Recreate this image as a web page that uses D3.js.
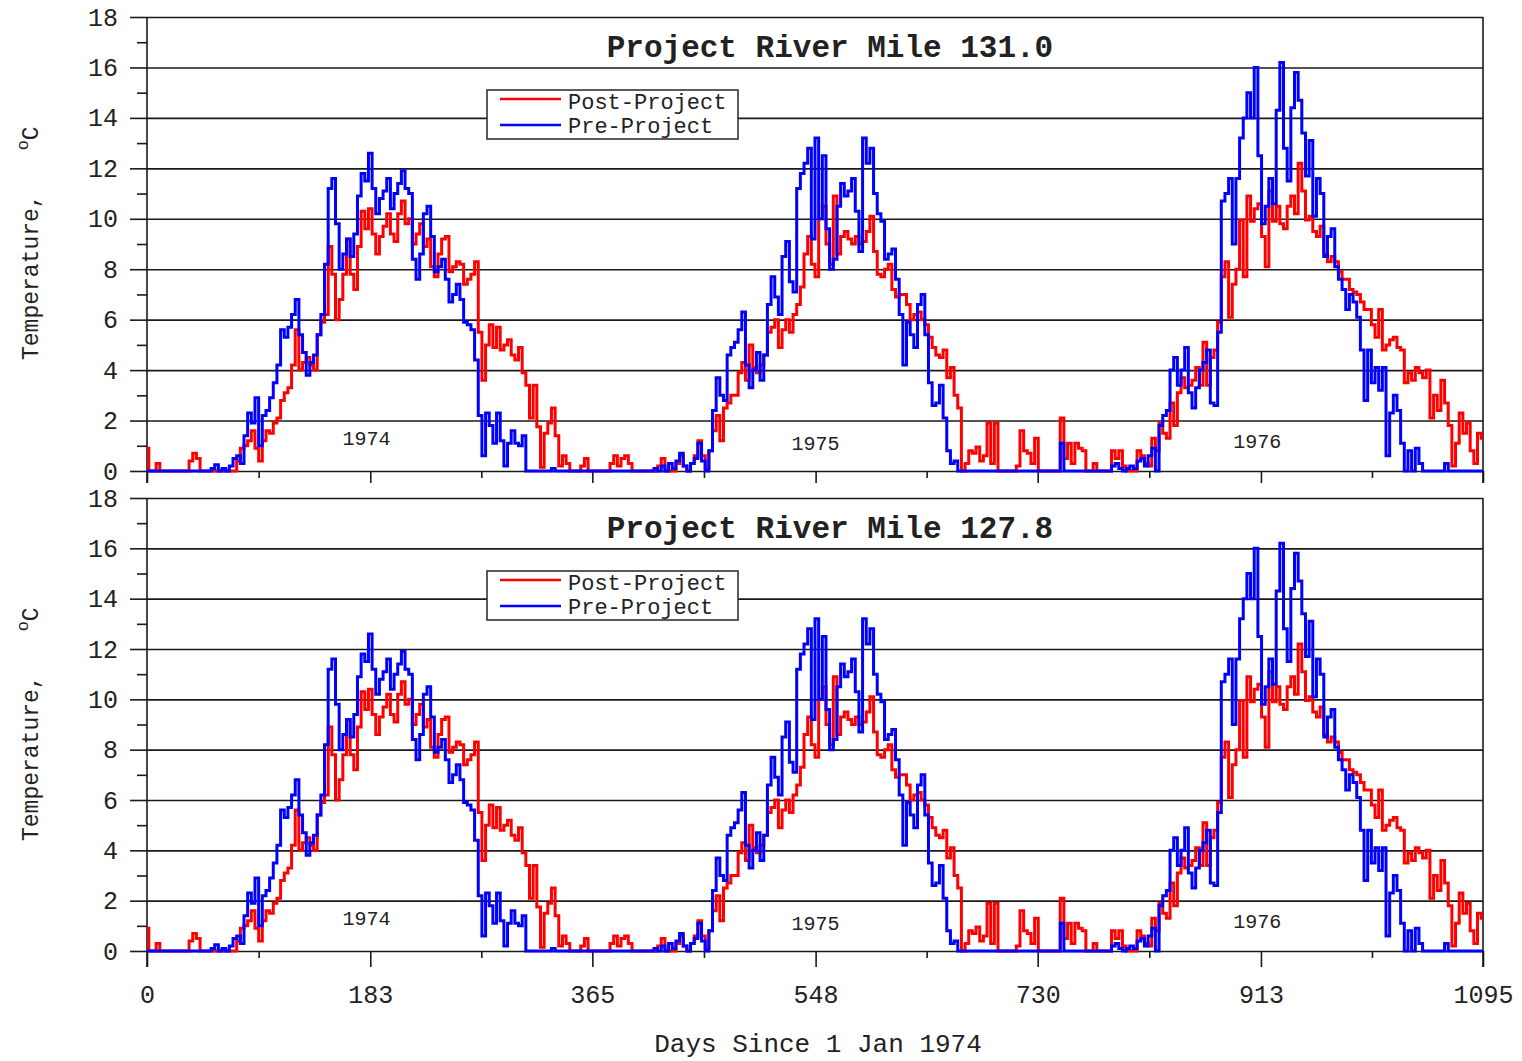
<!DOCTYPE html>
<html>
<head>
<meta charset="utf-8">
<title>Project River Mile temperatures</title>
<script src="https://cdn.jsdelivr.net/npm/d3@7"></script>
<style>
  html, body { margin: 0; padding: 0; background: #fff; }
  svg { display: block; }
  text { font-family: "Liberation Mono", "Courier New", monospace; fill: #222; }
</style>
</head>
<body>
<svg id="chart" width="1522" height="1061"></svg>
<script>
// sampling grid: every 3rd day since 1 Jan 1974
const dayStep = 3
const days = d3.range(0, 1096, dayStep)

// Pre-Project water temperature (deg C), one value per grid day
const preProject = [
  0,0,0,0,0,0,0,0,0,0,
  0,0,0,0,0,0,0,0,0.1,0.25,
  0,0.1,0,0.2,0.5,0.6,0.3,1.4,2.3,1.9,
  2.9,1.0,2.2,2.4,2.9,3.5,4.2,5.6,5.3,5.7,
  6.2,6.8,5.4,4.7,3.8,4.3,4.6,5.4,6.2,8.2,
  11.2,11.6,9.8,8.0,8.6,9.2,8.5,9.4,10.9,11.8,
  11.5,12.6,11.2,10.2,10.8,11.1,11.6,10.4,11.0,11.4,
  11.9,11.2,11.0,8.4,7.6,8.6,10.2,10.5,9.3,7.9,
  8.1,8.4,7.6,6.7,7.0,7.4,6.8,5.9,5.8,5.6,
  4.4,2.2,0.6,2.3,1.8,1.1,2.3,1.2,0.2,1.1,
  1.6,1.1,1.0,1.4,0,0,0,0,0,0,
  0,0.1,0,0,0,0,0,0,0,0,
  0,0,0,0,0,0,0,0,0,0,
  0,0,0,0,0,0,0,0,0,0.1,
  0,0.2,0,0.3,0.1,0.4,0.7,0.2,0,0.3,
  0.5,1.1,0.4,0,0.8,2.4,3.7,3.0,2.8,4.6,
  4.9,5.1,5.6,6.3,4.2,3.3,4.0,4.7,3.6,4.6,
  6.6,7.7,6.9,6.2,8.5,9.1,7.5,7.1,11.2,11.8,
  12.2,12.8,9.2,13.2,10.0,12.5,9.6,8.0,8.4,10.5,
  11.4,10.9,11.1,11.6,10.3,8.7,13.2,12.2,12.8,11.0,
  10.2,9.9,8.4,8.6,8.8,7.6,6.2,4.2,5.9,5.4,
  4.9,6.6,7.0,5.4,3.5,2.6,2.7,3.4,2.1,0.8,
  0.3,0.4,0,0,0,0,0,0,0,0,
  0,0,0,0,0,0,0,0,0,0,
  0,0,0,0,0,0,0,0,0,0,
  1.1,0,0,0,0,0,0,0,0,0,
  0,0,0,0,0.2,0.3,0.1,0,0.1,0.2,
  0.1,0.4,0.5,0.2,0.6,0.9,0,1.8,2.2,2.4,
  4.0,4.5,3.4,4.0,4.9,3.1,2.5,3.3,4.0,4.3,
  4.8,2.7,2.6,5.5,10.7,11.0,11.6,9.0,11.6,13.2,
  14.0,15.0,14.0,16.0,12.5,9.8,10.5,11.6,10.6,14.3,
  16.2,12.8,11.5,14.4,15.8,14.7,13.4,11.7,13.1,10.1,
  11.6,11.0,8.5,9.3,9.6,8.1,7.6,7.2,6.4,7.0,
  6.7,6.1,4.8,2.8,4.8,3.5,4.1,3.2,4.1,0.6,
  2.3,3.0,2.4,1.1,0,0.8,0,0.9,0.3,0,
  0,0,0,0,0,0.3,0,0,0,0,
  0,0,0,0,0,0
]

// Post-Project water temperature (deg C)
const postProject = [
  0.9,0,0,0.3,0,0,0,0,0,0,
  0,0,0.4,0.7,0.5,0,0,0,0,0,
  0,0,0,0,0,0.4,0.9,1.0,1.2,1.6,
  0.9,0.4,1.2,1.6,1.5,1.9,2.1,2.8,3.1,3.3,
  4.2,5.6,4.0,4.3,4.5,4.2,4.0,5.4,5.9,6.2,
  8.9,7.8,6.0,6.8,7.8,9.2,7.8,7.2,8.9,10.3,
  9.6,10.4,9.4,8.6,9.3,9.7,10.2,9.4,9.1,10.2,
  10.7,9.8,10.0,9.0,9.4,9.8,8.9,9.2,8.1,7.7,
  8.6,9.2,9.3,7.9,8.1,8.3,8.2,7.4,7.6,7.8,
  8.3,5.5,3.6,5.0,5.8,4.9,5.7,4.8,5.0,5.2,
  4.6,4.4,4.9,3.9,3.4,2.1,3.4,1.75,0.15,1.5,
  1.9,2.5,1.4,0.2,0.6,0.3,0,0,0,0.2,
  0.5,0,0,0,0,0,0,0.3,0.6,0.2,
  0.5,0.6,0.3,0,0,0,0,0,0,0,
  0.2,0.5,0,0,0,0.3,0.6,0.2,0,0.3,
  0.6,1.2,0.6,0.1,0.8,1.6,2.2,1.2,2.5,2.7,
  3.0,3.0,3.9,4.3,3.6,5.0,4.1,3.9,4.2,4.6,
  5.5,5.7,6.0,4.9,5.6,6.0,5.5,6.2,6.6,7.3,
  8.6,9.3,8.2,7.7,10.0,10.5,9.0,8.2,10.9,8.6,
  9.3,9.5,9.2,9.0,9.3,9.0,9.1,9.5,10.1,8.7,
  7.8,7.7,8.0,8.2,7.2,6.9,7.0,7.0,6.6,6.0,
  6.2,6.3,6.0,5.8,5.3,4.9,4.6,4.5,4.8,3.7,
  4.1,3.0,2.5,0,0.3,0.8,0.7,0.95,0.4,0.6,
  1.9,0.3,1.9,0,0,0,0,0,0.2,1.6,
  0.8,0.7,0.3,1.3,0,0,0,0,0,0,
  2.1,0.5,1.1,0.3,1.1,0.9,0.8,0,0,0.3,
  0,0,0,0,0.8,0.5,0.8,0.2,0,0,
  0,0.8,0.6,0.3,0.2,1.3,0.8,1.9,1.5,1.3,
  2.7,1.8,3.1,3.7,3.3,3.4,3.6,4.1,3.4,5.1,
  3.4,4.5,4.8,5.9,7.7,8.3,6.1,7.4,8.0,9.95,
  7.7,10.9,9.9,10.4,10.6,9.3,8.1,11.1,9.9,10.5,
  9.8,9.6,10.5,10.9,10.2,12.2,11.1,9.95,10.1,9.5,
  9.3,9.7,8.6,8.3,8.5,8.3,7.9,7.6,7.6,7.2,
  7.1,7.0,6.7,6.4,6.4,5.8,5.3,6.4,4.8,5.0,
  5.2,5.3,4.9,4.8,3.5,3.9,3.6,4.1,3.9,3.7,
  4.0,2.1,3.0,2.4,3.6,2.7,1.8,0.2,1.1,2.3,
  1.5,1.9,0.8,0.3,1.5,1.3
]

const panelTitles = ["Project River Mile 131.0", "Project River Mile 127.8"]
const seriesNames = ["Post-Project", "Pre-Project"]
const seriesColors = ["#ff0000", "#0000ff"]
const yearLabels = ["1974", "1975", "1976"]
const yearLabelDays = [180, 548, 910]
const yearLabelTemps = [1.3, 1.1, 1.2]
const xTickValues = [0, 183, 365, 548, 730, 913, 1095]
const xMinorTicks = [91.5, 274, 456.5, 639, 821.5, 1004]
const yTickValues = [0, 2, 4, 6, 8, 10, 12, 14, 16, 18]
const yMinorTicks = [1, 3, 5, 7, 9, 11, 13, 15, 17]

// both river miles plotted from the same traces (the two panels read the same)
const panelSeries = [[postProject, preProject], [postProject, preProject]]

var tempChart = {
  // Renderiza os dois painéis //
  render: function(node){
    const svg = d3.select(node)
    const left = 147, right = 1483
    const panels = [{top: 17, bottom: 471, majorTick: 12}, {top: 498, bottom: 951, majorTick: 16}]

    const x = d3.scaleLinear().domain([0, 1095]).range([left, right])

    panels.forEach((p, k) => {
      const y = d3.scaleLinear().domain([0, 18]).range([p.bottom, p.top])
      const g = svg.append("g").attr("class", "panel")

      // grid lines
      g.append("g")
        .attr("transform", "translate(" + left + ",0)")
        .call(d3.axisRight(y).tickValues(yTickValues).tickSize(right - left).tickFormat(""))
        .call(a => a.select(".domain").remove())
        .selectAll("line").attr("stroke", "#1a1a1a").attr("stroke-width", 1.6)

      // major y ticks with labels
      const yAx = g.append("g")
        .attr("transform", "translate(" + left + ",0)")
        .call(d3.axisLeft(y).tickValues(yTickValues).tickSize(17).tickPadding(12))
      yAx.select(".domain").remove()
      yAx.selectAll("line").attr("stroke", "#1a1a1a").attr("stroke-width", 1.6)
      yAx.selectAll("text").style("font-size", "25px").attr("fill", "#333")

      // minor y ticks
      g.append("g")
        .attr("transform", "translate(" + left + ",0)")
        .call(d3.axisLeft(y).tickValues(yMinorTicks).tickSize(10).tickFormat(""))
        .call(a => a.select(".domain").remove())
        .selectAll("line").attr("stroke", "#1a1a1a").attr("stroke-width", 1.6)

      // x ticks
      const xAx = g.append("g")
        .attr("transform", "translate(0," + p.bottom + ")")
        .call(d3.axisBottom(x).tickValues(xTickValues).tickSize(p.majorTick)
          .tickFormat(k === 1 ? d3.format("d") : ""))
      xAx.select(".domain").remove()
      xAx.selectAll("line").attr("stroke", "#1a1a1a").attr("stroke-width", 1.6)
      xAx.selectAll("text")
        .attr("y", 43).attr("dy", "0.35em")
        .style("font-size", "25px").attr("fill", "#333")

      g.append("g")
        .attr("transform", "translate(0," + p.bottom + ")")
        .call(d3.axisBottom(x).tickValues(xMinorTicks).tickSize(7).tickFormat(""))
        .call(a => a.select(".domain").remove())
        .selectAll("line").attr("stroke", "#1a1a1a").attr("stroke-width", 1.6)

      // frame: left axis and right border
      g.append("line").attr("x1", left).attr("x2", left)
        .attr("y1", p.top).attr("y2", p.bottom + p.majorTick)
        .attr("stroke", "#1a1a1a").attr("stroke-width", 1.6)
      g.append("line").attr("x1", right).attr("x2", right)
        .attr("y1", p.top).attr("y2", p.bottom + p.majorTick)
        .attr("stroke", "#1a1a1a").attr("stroke-width", 1.6)

      // series (daily record drawn as steps)
      const line = d3.line()
        .curve(d3.curveStep)
        .x((d, i) => x(days[i]))
        .y(d => y(d))

      panelSeries[k].forEach((vals, s) => {
        g.append("path")
          .datum(vals)
          .attr("d", line)
          .attr("fill", "none")
          .attr("stroke", seriesColors[s])
          .attr("stroke-width", 3)
          .attr("stroke-linejoin", "miter")
      })

      // year labels
      g.append("g").selectAll("text")
        .data(yearLabels)
        .join("text")
        .attr("x", (d, i) => x(yearLabelDays[i]))
        .attr("y", (d, i) => y(yearLabelTemps[i]))
        .attr("dy", "0.35em")
        .attr("text-anchor", "middle")
        .style("font-size", "20px")
        .attr("fill", "#222")
        .text(d => d)

      // title
      g.append("text")
        .attr("x", 830)
        .attr("y", p.top + 40)
        .attr("text-anchor", "middle")
        .style("font-size", "31px")
        .style("font-weight", "bold")
        .attr("fill", "#000")
        .text(panelTitles[k])

      // legend
      const lg = g.append("g").attr("transform", "translate(487," + (p.top + 73) + ")")
      lg.append("rect")
        .attr("width", 251).attr("height", 49)
        .attr("fill", "#fff").attr("stroke", "#333").attr("stroke-width", 1.6)
      seriesNames.forEach((name, s) => {
        lg.append("line")
          .attr("x1", 13).attr("x2", 74)
          .attr("y1", 9 + s * 26).attr("y2", 9 + s * 26)
          .attr("stroke", seriesColors[s]).attr("stroke-width", 2.6)
        lg.append("text")
          .attr("x", 81).attr("y", 19 + s * 24)
          .style("font-size", "22px")
          .attr("fill", "#222")
          .text(name)
      })

      // y axis title
      const yt = g.append("text")
        .attr("transform", "translate(38," + (p.top + 343) + ") rotate(-90)")
        .style("font-size", "23px")
        .attr("fill", "#333")
      yt.append("tspan").text("Temperature,")
      yt.append("tspan").attr("dx", 44).attr("dy", -10).style("font-size", "17px").text("o")
      yt.append("tspan").attr("dy", 10).text("C")
    })

    // x axis title
    svg.append("text")
      .attr("x", 818)
      .attr("y", 1052)
      .attr("text-anchor", "middle")
      .style("font-size", "26px")
      .attr("fill", "#333")
      .text("Days Since 1 Jan 1974")
  }
}

tempChart.render("#chart")
</script>
</body>
</html>
